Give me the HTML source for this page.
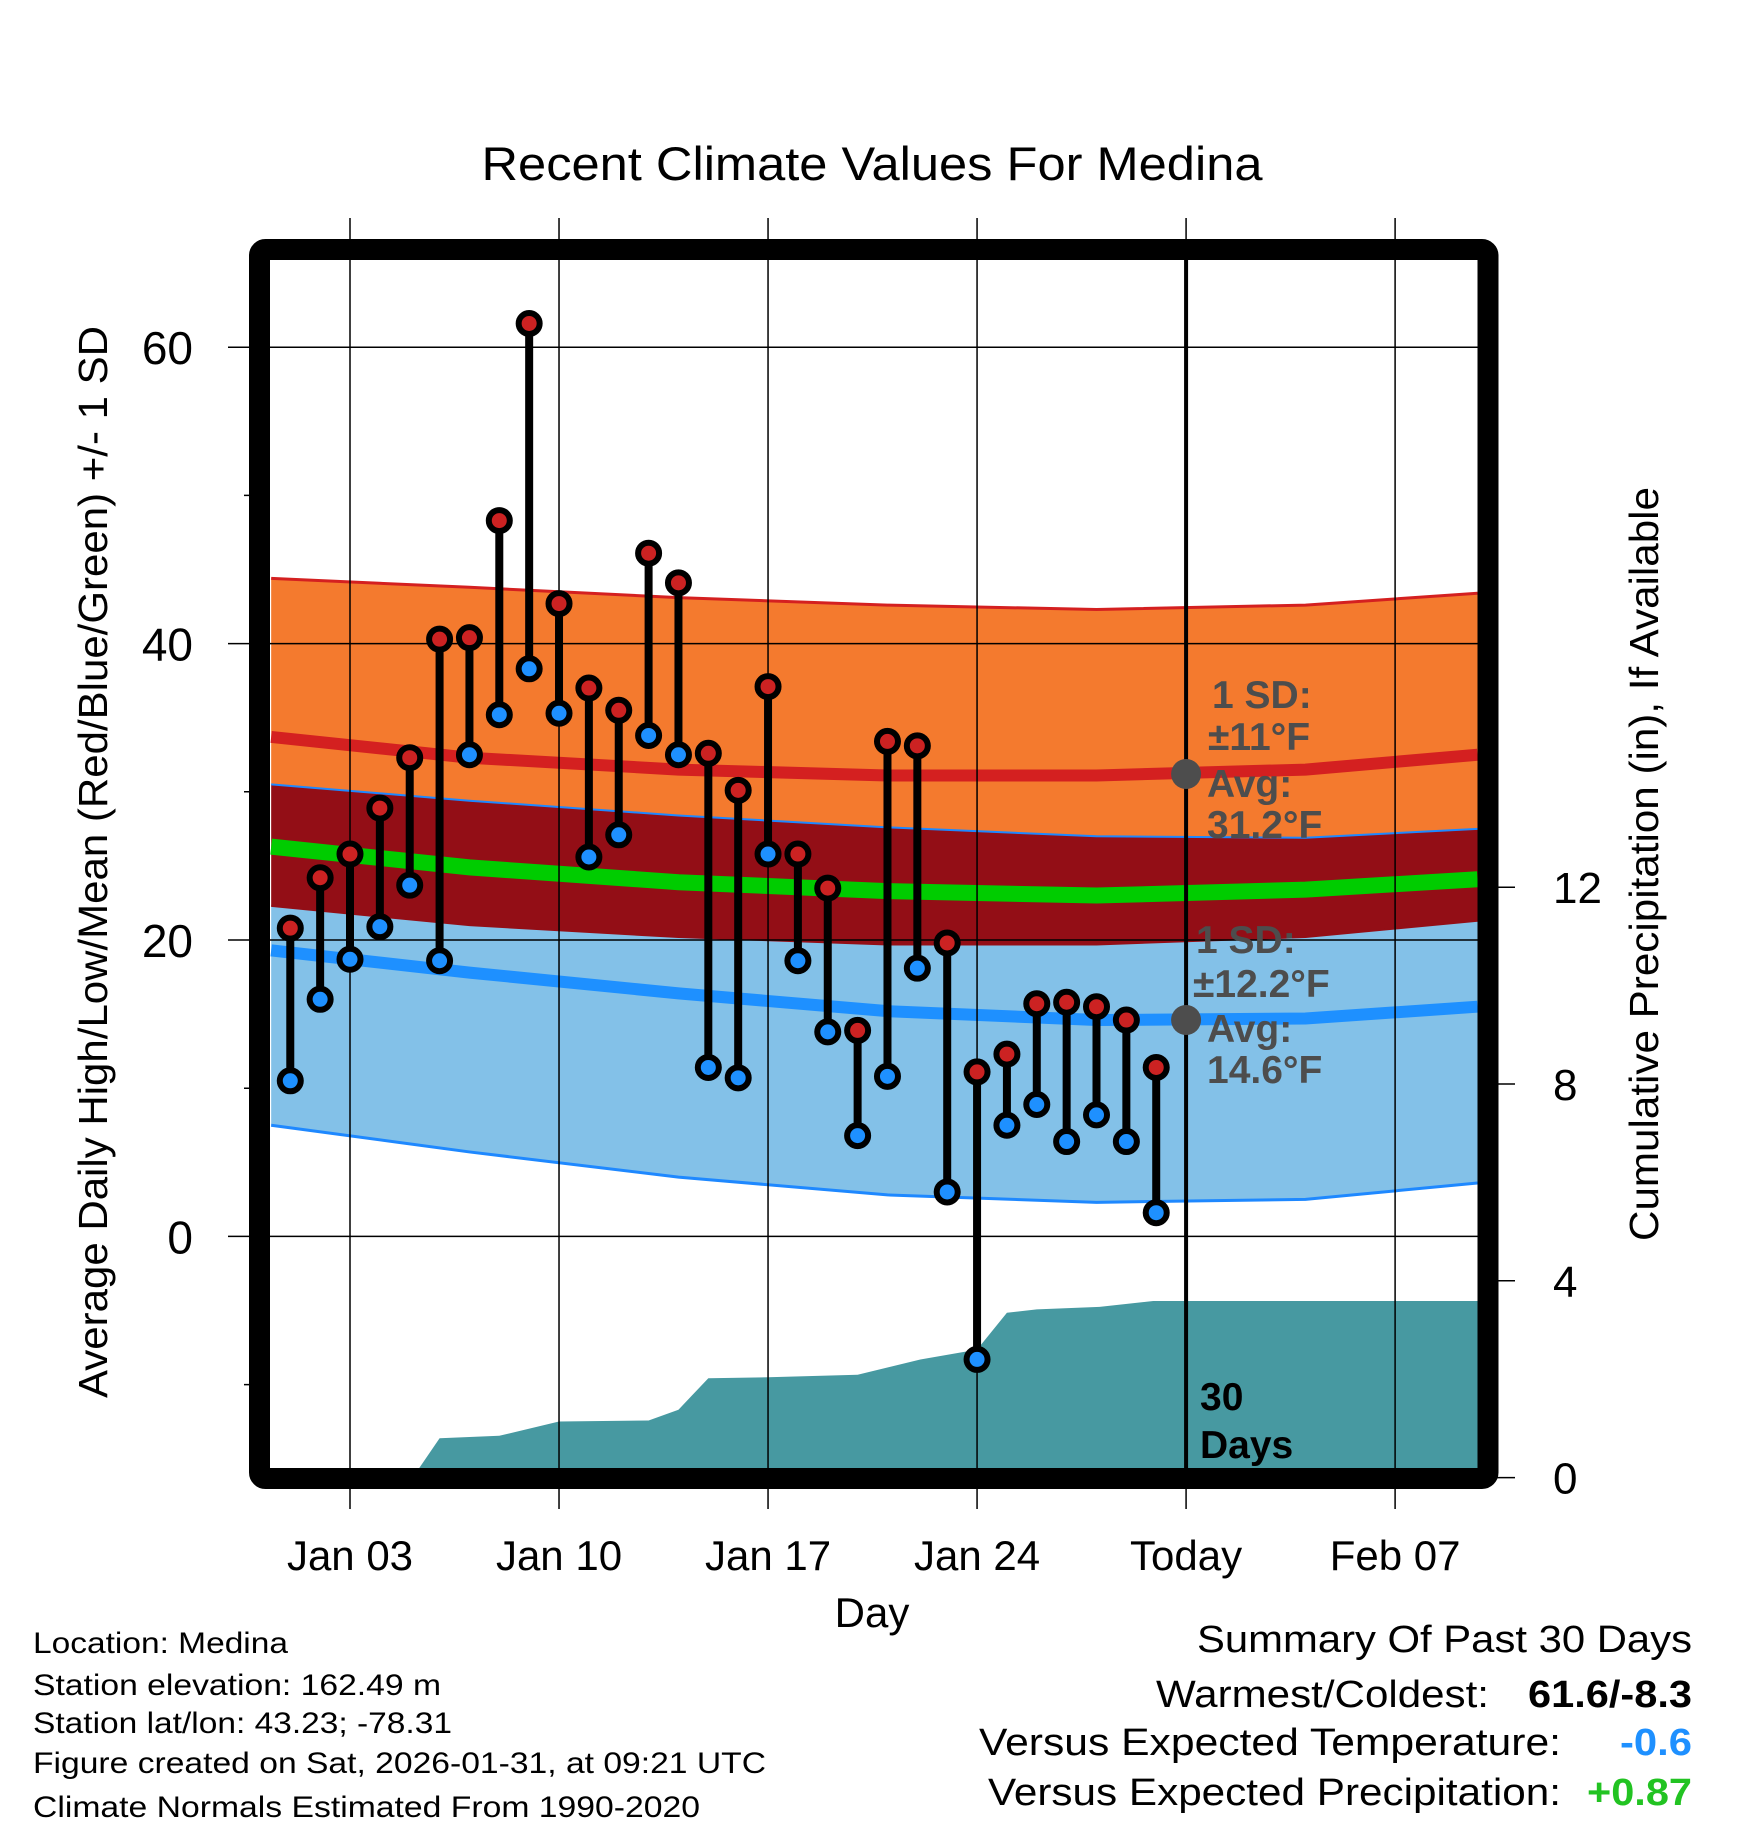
<!DOCTYPE html>
<html><head><meta charset="utf-8"><style>
html,body{margin:0;padding:0;background:#fff}
svg{display:block;font-family:"Liberation Sans",Arial,sans-serif}
</style></head><body>
<svg id="chart" width="1748" height="1828" viewBox="0 0 1748 1828" xmlns="http://www.w3.org/2000/svg">
<defs><clipPath id="plotclip"><rect x="270" y="260" width="1208" height="1208"/></clipPath></defs>
<g id="layers"></g>
</svg>
<script>
// ---- data ----
const dayNums = [1,2,3,4,5,6,7,8,9,10,11,12,13,14,15,16,17,18,19,20,21,22,23,24,25,26,27,28,29,30];
const highs = [20.8,24.2,25.8,28.9,32.3,40.3,40.4,48.3,61.6,42.7,37.0,35.5,46.1,44.1,32.6,30.1,37.1,25.8,23.5,13.9,33.4,33.1,19.8,11.1,12.3,15.7,15.8,15.5,14.6,11.4];
const lows = [10.5,16.0,18.7,20.9,23.7,18.6,32.5,35.2,38.3,35.3,25.6,27.1,33.8,32.5,11.4,10.7,25.8,18.6,13.8,6.8,10.8,18.1,3.0,-8.3,7.5,8.9,6.4,8.2,6.4,1.6];
const normDays = [0.36,7,14,21,28,35,40.76];
const highUpper = [44.4,43.8,43.1,42.6,42.3,42.6,43.4];
const highMean = [33.7,32.3,31.5,31.1,31.1,31.5,32.5];
const highLower = [30.5,29.4,28.4,27.6,27.0,26.9,27.5];
const meanLine = [26.3,24.9,23.9,23.3,23.0,23.4,24.1];
const lowUpper = [22.3,21.0,20.2,19.7,19.7,20.2,21.3];
const lowMean = [19.3,17.8,16.4,15.2,14.6,14.7,15.5];
const lowLower = [7.5,5.7,4.0,2.8,2.3,2.5,3.6];
const precipDays = [5.1,6.0,8.0,10.0,13.0,14.0,15.0,17.0,20.0,22.1,24.0,25.0,26.0,28.1,29.9,40.76];
const precipVals = [0,0.80,0.85,1.14,1.16,1.38,2.02,2.04,2.09,2.40,2.60,3.35,3.42,3.47,3.59,3.59];
const tempTicks = [0,20,40,60];
const tempMinor = [-10,10,30,50];
const precipTicks = [0,4,8,12];
const xTickDays = [3,10,17,24,31,38];
const xTickLabels = ["Jan 03","Jan 10","Jan 17","Jan 24","Today","Feb 07"];

// ---- axes ----
const X = d => 350 + (d - 3) * 29.86;
const Y = t => 1236.4 - t * 14.82;
const P = p => 1477.6 - p * 49.2;
const NS = "http://www.w3.org/2000/svg";
const root = document.getElementById('layers');
function mk(tag, attrs, parent, text){
  const e = document.createElementNS(NS, tag);
  for (const k in attrs) e.setAttribute(k, attrs[k]);
  if (text !== undefined) e.textContent = text;
  (parent || root).appendChild(e);
  return e;
}
const clipG = mk('g', {'clip-path':'url(#plotclip)'});



function band(up, lo, fill, name){
  let d = 'M' + normDays.map((n,i)=>X(n)+','+Y(up[i])).join(' L');
  for (let i = normDays.length-1; i >= 0; i--) d += ' L' + X(normDays[i]) + ',' + Y(lo[i]);
  const p = mk('path', {d: d + 'Z', fill: fill}, clipG);
  
  
}
function line(arr, color, w, name){
  const p = mk('path', {d: 'M' + normDays.map((n,i)=>X(n)+','+Y(arr[i])).join(' L'), fill:'none', stroke:color, 'stroke-width':w}, clipG);
  
  
}
band(highUpper, highLower, '#f47a2e', 'high-sd-band');
band(highLower, lowUpper, '#930e16', 'overlap-band');
band(lowUpper, lowLower, '#83c1e8', 'low-sd-band');
line(highUpper, '#d42020', 3, 'high-upper-edge');
line(highLower, '#1e88ff', 2, 'high-lower-edge');
line(lowUpper, '#930e16', 2, 'low-upper-edge');
line(lowLower, '#1e88ff', 3, 'low-lower-edge');
line(highMean, '#d42020', 12, 'normal-high-line');
line(lowMean, '#1e90ff', 12, 'normal-low-line');
line(meanLine, '#00cc00', 16, 'normal-mean-line');

// precip area
{
  let d = 'M' + X(precipDays[0]) + ',' + P(0);
  precipDays.forEach((dd,i)=>{ d += ' L' + X(dd) + ',' + P(precipVals[i]); });
  d += ' L' + X(precipDays[precipDays.length-1]) + ',' + P(0) + 'Z';
  const p = mk('path', {d:d, fill:'#4799a1'}, clipG);
  
  
}

// grid
xTickDays.forEach((d,i)=>{
  const g = mk('line', {x1:X(d), x2:X(d), y1:218, y2:1509, stroke:'#000', 'stroke-width':1.5});
  
  
  const t = mk('text', {x:X(d), y:1570, 'font-size':42, 'text-anchor':'middle'}, root, xTickLabels[i]);
  
  
});
tempTicks.forEach(v=>{
  const g = mk('line', {x1:228, x2:1478, y1:Y(v), y2:Y(v), stroke:'#000', 'stroke-width':1.5});
  
  
  const t = mk('text', {x:193, y:Y(v)+17, 'font-size':46, 'text-anchor':'end'}, root, String(v));
  
  
});
tempMinor.forEach(v=>{
  const g = mk('line', {x1:244, x2:262, y1:Y(v), y2:Y(v), stroke:'#000', 'stroke-width':1.5});
  
  
});
precipTicks.forEach(v=>{
  const g = mk('line', {x1:1490, x2:1515, y1:P(v), y2:P(v), stroke:'#000', 'stroke-width':1.5});
  
  
  const t = mk('text', {x:1553, y:P(v)+16, 'font-size':44}, root, String(v));
  
  
});

// today line
{
  const t = mk('line', {x1:X(31), x2:X(31), y1:260, y2:1468, stroke:'#000', 'stroke-width':4});
  
  
}

// stems and points
dayNums.forEach((d,i)=>{
  const s = mk('line', {x1:X(d), x2:X(d), y1:Y(highs[i]), y2:Y(lows[i]), stroke:'#000', 'stroke-width':8});
  
  
});
dayNums.forEach((d,i)=>{
  const h = mk('circle', {cx:X(d), cy:Y(highs[i]), r:10.5, fill:'#cc2222', stroke:'#000', 'stroke-width':6});
  
  
  const l = mk('circle', {cx:X(d), cy:Y(lows[i]), r:10.5, fill:'#1e90ff', stroke:'#000', 'stroke-width':6});
  
  
});

// annotation dots
[31.2, 14.6].forEach(v=>{
  const c = mk('circle', {cx:X(31), cy:Y(v), r:15, fill:'#4d4d4d'});
  
  
});

// frame
{
  const f = mk('rect', {x:259.5, y:249.5, width:1228.5, height:1229, rx:6, fill:'none', stroke:'#000', 'stroke-width':21});
  
  
}
</script>
<svg style="position:absolute;left:0;top:0" width="1748" height="1828" viewBox="0 0 1748 1828" xmlns="http://www.w3.org/2000/svg" font-family="Liberation Sans, Arial, sans-serif">
<text x="872" y="180" font-size="47" text-anchor="middle" textLength="781" lengthAdjust="spacingAndGlyphs">Recent Climate Values For Medina</text>
<text transform="translate(107,862) rotate(-90)" font-size="41" text-anchor="middle" textLength="1072" lengthAdjust="spacingAndGlyphs">Average Daily High/Low/Mean (Red/Blue/Green) +/- 1 SD</text>
<text transform="translate(1658,864) rotate(-90)" font-size="41" text-anchor="middle" textLength="754" lengthAdjust="spacingAndGlyphs">Cumulative Precipitation (in), If Available</text>
<text x="872" y="1627" font-size="42" text-anchor="middle">Day</text>
<g font-weight="bold" font-size="39" fill="#4d4d4d">
<text x="1212" y="708">1 SD:</text>
<text x="1208" y="750">±11°F</text>
<text x="1207" y="797">Avg:</text>
<text x="1207" y="838">31.2°F</text>
</g>
<g font-weight="bold" font-size="39" fill="#4d4d4d">
<text x="1196" y="953">1 SD:</text>
<text x="1193" y="997">±12.2°F</text>
<text x="1207" y="1042">Avg:</text>
<text x="1207" y="1083">14.6°F</text>
</g>
<g font-weight="bold" font-size="39" fill="#000">
<text x="1200" y="1410">30</text>
<text x="1200" y="1458">Days</text>
</g>
<g font-size="30" fill="#000">
<text x="33" y="1653" textLength="255" lengthAdjust="spacingAndGlyphs">Location: Medina</text>
<text x="33" y="1695" textLength="408" lengthAdjust="spacingAndGlyphs">Station elevation: 162.49 m</text>
<text x="33" y="1733" textLength="419" lengthAdjust="spacingAndGlyphs">Station lat/lon: 43.23; -78.31</text>
<text x="33" y="1773" textLength="733" lengthAdjust="spacingAndGlyphs">Figure created on Sat, 2026-01-31, at 09:21 UTC</text>
<text x="33" y="1817" textLength="667" lengthAdjust="spacingAndGlyphs">Climate Normals Estimated From 1990-2020</text>
</g>
<g font-size="38" fill="#000">
<text x="1197" y="1652" textLength="495" lengthAdjust="spacingAndGlyphs">Summary Of Past 30 Days</text>
<text x="1156" y="1707" textLength="333" lengthAdjust="spacingAndGlyphs">Warmest/Coldest:</text>
<text x="1528" y="1707" font-weight="bold" textLength="164" lengthAdjust="spacingAndGlyphs">61.6/-8.3</text>
<text x="979" y="1755" textLength="582" lengthAdjust="spacingAndGlyphs">Versus Expected Temperature:</text>
<text x="1620" y="1755" font-weight="bold" fill="#1e90ff" textLength="72" lengthAdjust="spacingAndGlyphs">-0.6</text>
<text x="988" y="1805" textLength="573" lengthAdjust="spacingAndGlyphs">Versus Expected Precipitation:</text>
<text x="1587" y="1805" font-weight="bold" fill="#22c322" textLength="105" lengthAdjust="spacingAndGlyphs">+0.87</text>
</g>
</svg>
</body></html>
